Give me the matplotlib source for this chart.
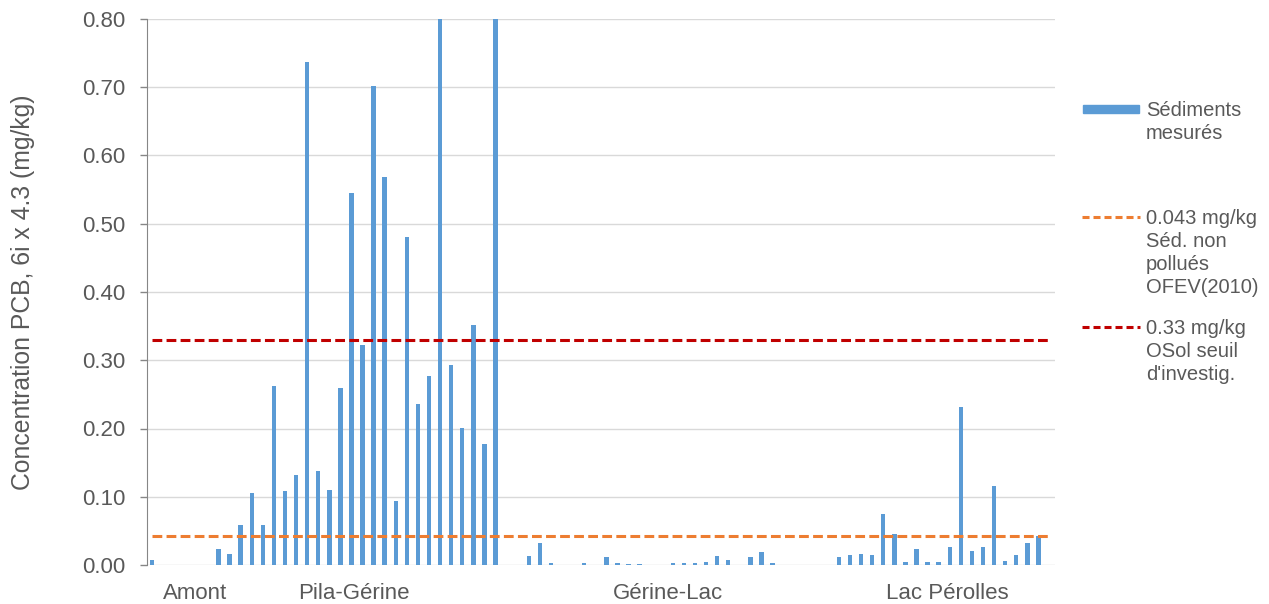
import numpy as np
import matplotlib.pyplot as plt
from matplotlib.lines import Line2D
from matplotlib.patches import Rectangle

plt.rcParams['font.family'] = ['Liberation Sans', 'DejaVu Sans']

nan = np.nan
# Concentrations PCB par échantillon (mg/kg), une valeur par catégorie (nan = vide)
# les valeurs 26 et 31 dépassent l'axe (coupées à 0.80 dans l'original)
pcb = [0.007, nan, nan, nan, nan, nan, 0.023, 0.016, 0.059, 0.105,
       0.058, 0.263, 0.108, 0.132, 0.737, 0.137, 0.110, 0.260, 0.545, 0.323,
       0.702, 0.569, 0.094, 0.480, 0.236, 0.277, 0.95, 0.293, 0.201, 0.351,
       0.177, 1.10, nan, nan, 0.013, 0.032, 0.0035, nan, nan, 0.0035,
       nan, 0.012, 0.0035, 0.002, 0.001, nan, nan, 0.0035, 0.0035, 0.0035,
       0.005, 0.013, 0.008, nan, 0.012, 0.019, 0.0035, nan, nan, nan,
       nan, nan, 0.012, 0.015, 0.016, 0.015, 0.075, 0.046, 0.005, 0.024,
       0.005, 0.005, 0.027, 0.232, 0.020, 0.027, 0.116, 0.006, 0.015, 0.032,
       0.043, nan]

# Tronçons (étiquettes de l'axe x) et leur position
troncons = ['Amont', 'Pila-Gérine', 'Gérine-Lac', 'Lac Pérolles']
troncons_pos = [3.86, 18.2, 46.6, 71.8]

seuil_ofev = 0.043
seuil_osol = 0.33

gris = '#595959'
bleu = '#5B9BD5'
orange = '#ED7D31'
rouge = '#C00000'

W, H = 1269, 604
fig = plt.figure(figsize=(W / 100, H / 100), dpi=100)
ax = fig.add_axes([146.5 / W, 1 - 565 / H, (1055 - 146.5) / W, (565 - 19) / H])

x = np.arange(len(pcb))
ax.bar(x, pcb, width=0.4, color=bleu, zorder=2)

xs = [x[0], x[-1]]
ax.plot(xs, [seuil_ofev] * 2, color=orange, lw=2.2, dashes=(3.2, 1.4), zorder=3)
ax.plot(xs, [seuil_osol] * 2, color=rouge, lw=2.2, dashes=(3.2, 1.4), zorder=3)

ax.set_xlim(-0.5, len(pcb) - 0.5)
ax.set_ylim(0, 0.8)
ax.set_yticks(np.arange(0, 0.81, 0.1))
ax.set_yticklabels([f'{v:.2f}' for v in np.arange(0, 0.81, 0.1)])
ax.grid(axis='y', color='#D9D9D9', lw=1, zorder=0)
ax.set_axisbelow(True)

ax.set_xticks(troncons_pos)
ax.set_xticklabels(troncons)
ax.tick_params(axis='x', length=0, pad=13, labelsize=16, labelcolor=gris)
ax.tick_params(axis='y', length=5, width=1, color='#868686', pad=10,
               labelsize=16, labelcolor=gris)

for s in ['top', 'right', 'bottom']:
    ax.spines[s].set_visible(False)
ax.spines['left'].set_color('#868686')

ax.set_ylabel('Concentration PCB, 6i x 4.3 (mg/kg)', fontsize=17.8, color=gris)
ax.yaxis.set_label_coords((35 - 146.5) / (1055 - 146.5), 0.5)

# Légende dessinée à la main (le symbole est aligné sur la première ligne)
def fx(px):
    return px / W

def fy(py):
    return 1 - py / H

fig.add_artist(Rectangle((fx(1083), fy(113)), fx(56), 8 / H, color=bleu,
                         transform=fig.transFigure))
fig.add_artist(Line2D([fx(1082), fx(1140)], [fy(217)] * 2, color=orange, lw=2.2,
                      dashes=(2.3, 1.3), transform=fig.transFigure))
fig.add_artist(Line2D([fx(1082), fx(1140)], [fy(327)] * 2, color=rouge, lw=2.2,
                      dashes=(2.3, 1.3), transform=fig.transFigure))

leg_txt = [('Sédiments\nmesurés', 101.5),
           ('0.043 mg/kg\nSéd. non\npollués\nOFEV(2010)', 209.5),
           ('0.33 mg/kg\nOSol seuil\nd\'investig.', 319.5)]
for txt, top in leg_txt:
    fig.text(fx(1146), fy(top), txt, fontsize=14.5, color=gris, va='top', ha='left',
             linespacing=1.25)

fig.savefig('out.png', dpi=100)
